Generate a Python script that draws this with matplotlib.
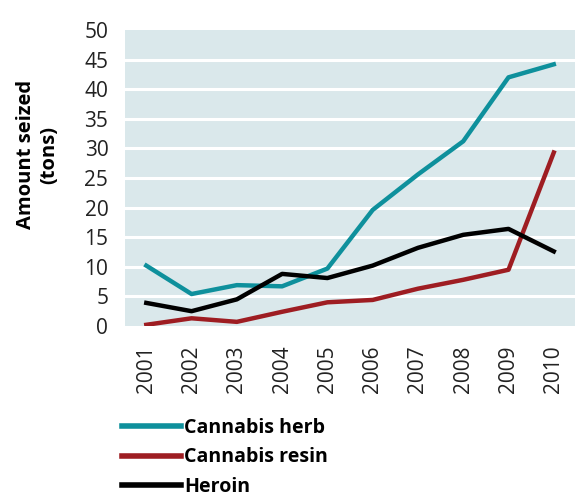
import numpy as np
import matplotlib.pyplot as plt

# dados
anos = ['2001', '2002', '2003', '2004', '2005', '2006', '2007', '2008', '2009', '2010']
cannabis_herb = [10.2, 5.4, 6.9, 6.7, 9.7, 19.6, 25.6, 31.2, 42.0, 44.2]
cannabis_resin = [0.2, 1.3, 0.7, 2.4, 4.0, 4.4, 6.3, 7.8, 9.5, 29.3]
heroin = [3.9, 2.5, 4.5, 8.8, 8.1, 10.2, 13.2, 15.4, 16.4, 12.6]

plt.rcParams['font.family'] = ['Open Sans', 'DejaVu Sans']

fig = plt.figure(figsize=(5.85, 4.98), dpi=100)
ax = fig.add_axes([0.2137, 0.3454, 0.7693, 0.5944])
ax.set_facecolor('#dae8eb')

x = np.arange(len(anos))
l1, = ax.plot(x, cannabis_herb, color='#0e909c', lw=3.2, label='Cannabis herb')
l2, = ax.plot(x, cannabis_resin, color='#9e1d22', lw=3.2, label='Cannabis resin')
l3, = ax.plot(x, heroin, color='#000000', lw=3.2, label='Heroin')

ax.set_ylim(0, 50)
ax.set_xlim(-0.47, 9.47)
ax.set_yticks(range(0, 51, 5))
ax.set_xticks(x)
ax.set_xticklabels(anos, rotation=90)
for yy in range(5, 50, 5):
    ax.axhline(yy, color='white', lw=2.2, zorder=1)
for l in (l1, l2, l3):
    l.set_zorder(3)
for s in ax.spines.values():
    s.set_visible(False)
ax.tick_params(length=0, labelsize=15, colors='#222222')
ax.tick_params(axis='y', pad=12)
ax.tick_params(axis='x', pad=14)
ax.set_ylabel('Amount seized\n(tons)', fontsize=14.5, fontweight='bold')
ax.yaxis.set_label_coords(-0.147, 0.578)

leg = fig.legend(handles=[l1, l2, l3], loc='upper left', bbox_to_anchor=(0.196, 0.177),
                 frameon=False, handlelength=3.0, handletextpad=0.15, labelspacing=0.5,
                 prop={'size': 14.1, 'weight': 'bold'}, borderaxespad=0)
for h in leg.legend_handles:
    h.set_linewidth(4)

plt.savefig('out.png', dpi=100)
